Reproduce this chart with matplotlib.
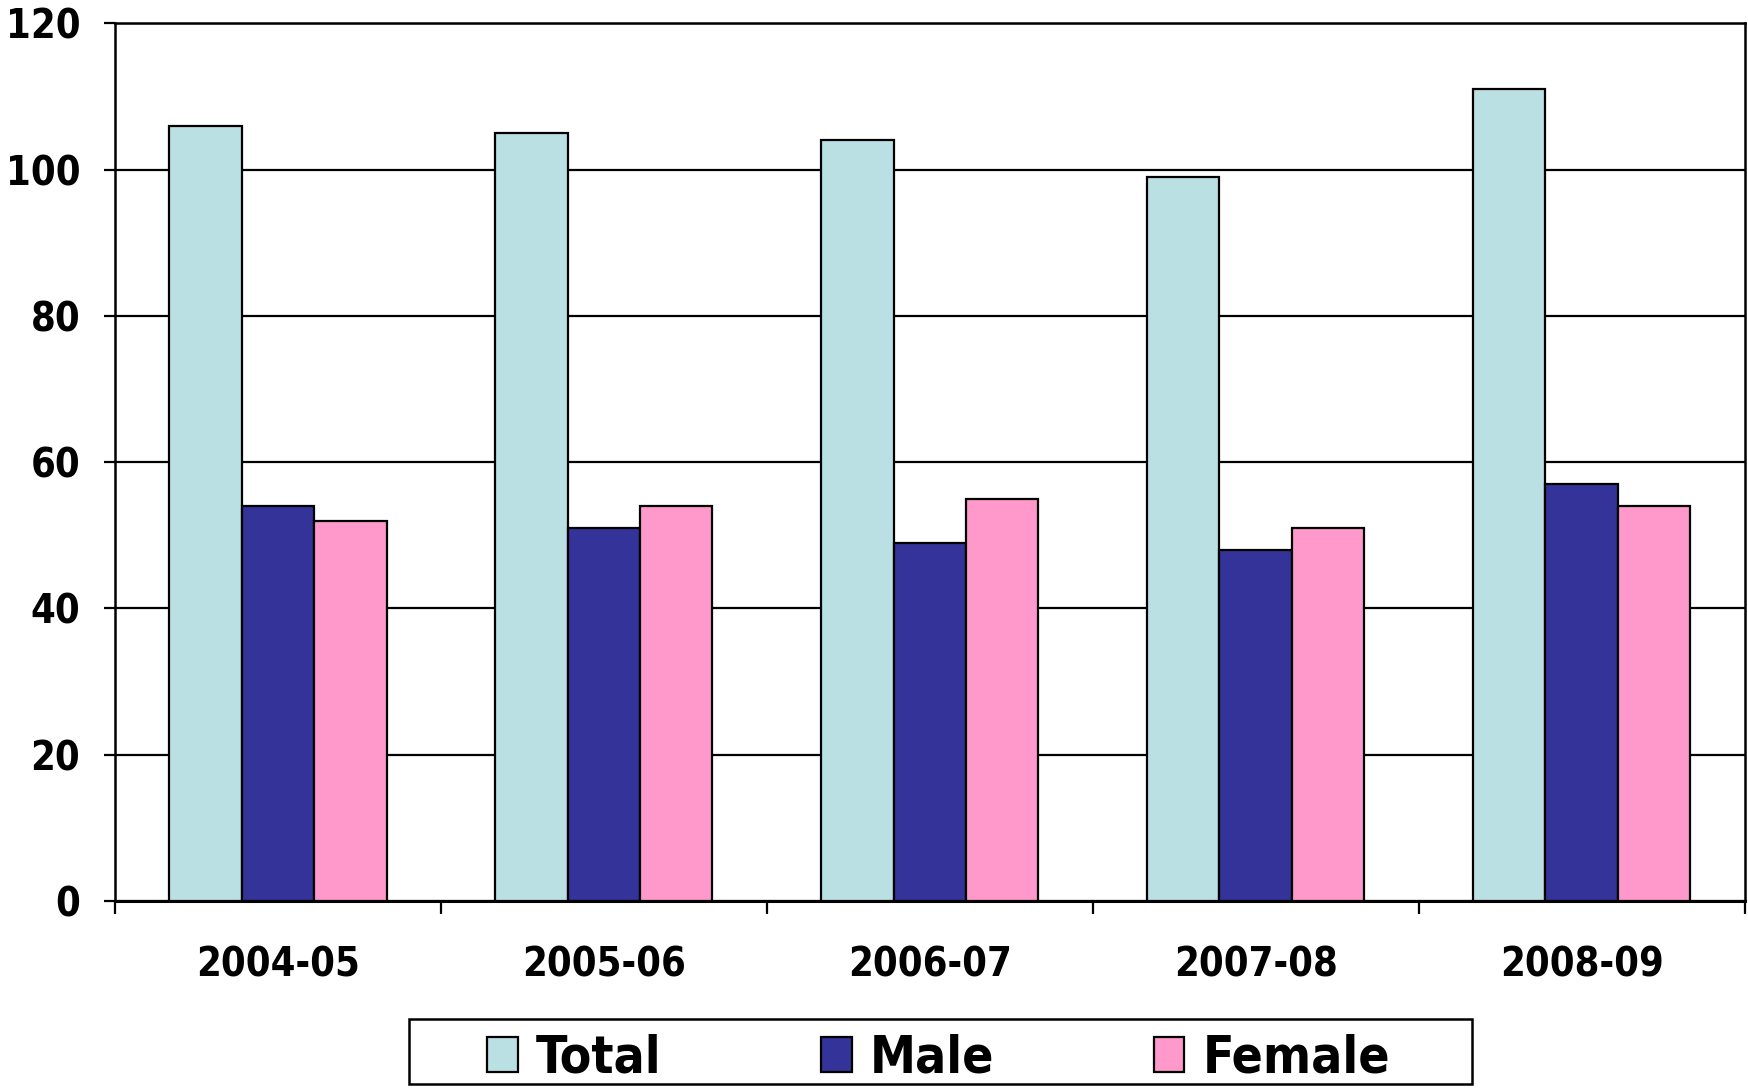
import numpy as np
from matplotlib import pyplot as plt
from matplotlib.patches import Rectangle

years = ["2004-05", "2005-06", "2006-07", "2007-08", "2008-09"]
total = [106, 105, 104, 99, 111]
male = [54, 51, 49, 48, 57]
female = [52, 54, 55, 51, 54]

series = ["Total", "Male", "Female"]
colors = ["#BBE0E3", "#333399", "#FF99CC"]

plt.rcParams['font.family'] = ['DejaVu Sans']
plt.rcParams['font.stretch'] = 'condensed'
plt.rcParams['font.weight'] = 'bold'

fig = plt.figure(figsize=(17.48, 10.88), dpi=100)
ax = fig.add_axes([0.0658, 0.172, 0.9322, 0.8065])

x = np.arange(len(years))
bw = 1 / 4.5
for i, (vals, name, col) in enumerate(zip([total, male, female], series, colors)):
    ax.bar(x + (i - 1) * bw, vals, width=bw, color=col, edgecolor='black',
           linewidth=1.6, label=name, zorder=3)

ax.set_xlim(-0.5, len(years) - 0.5)
ax.set_ylim(0, 120)
ax.set_yticks(np.arange(0, 121, 20))
ax.yaxis.grid(True, color='black', linewidth=1.6, zorder=0)

ax.set_xticks(x)
ax.set_xticklabels(years)
ax.set_xticks(np.arange(-0.5, len(years)), minor=True)
ax.tick_params(axis='x', which='major', length=0, pad=32, labelsize=28.5)
ax.tick_params(axis='x', which='minor', length=9, width=1.6, direction='out')
ax.tick_params(axis='y', length=8, width=1.6, pad=17, labelsize=28.5)

for s in ax.spines.values():
    s.set_linewidth(1.8)
ax.spines['bottom'].set_linewidth(2.2)

# legend frame drawn separately so the entries can sit wide apart
fig.patches.append(Rectangle((0.234, 0.004), 0.608, 0.059, transform=fig.transFigure,
                             fill=False, edgecolor='black', linewidth=1.8))
fig.legend(loc='center', bbox_to_anchor=(0.537, 0.027), ncol=3, frameon=False,
           fontsize=37, columnspacing=3.1, handlelength=0.6, handleheight=0.65,
           handletextpad=0.35, borderpad=0.1)

plt.savefig('out.png', dpi=100)
